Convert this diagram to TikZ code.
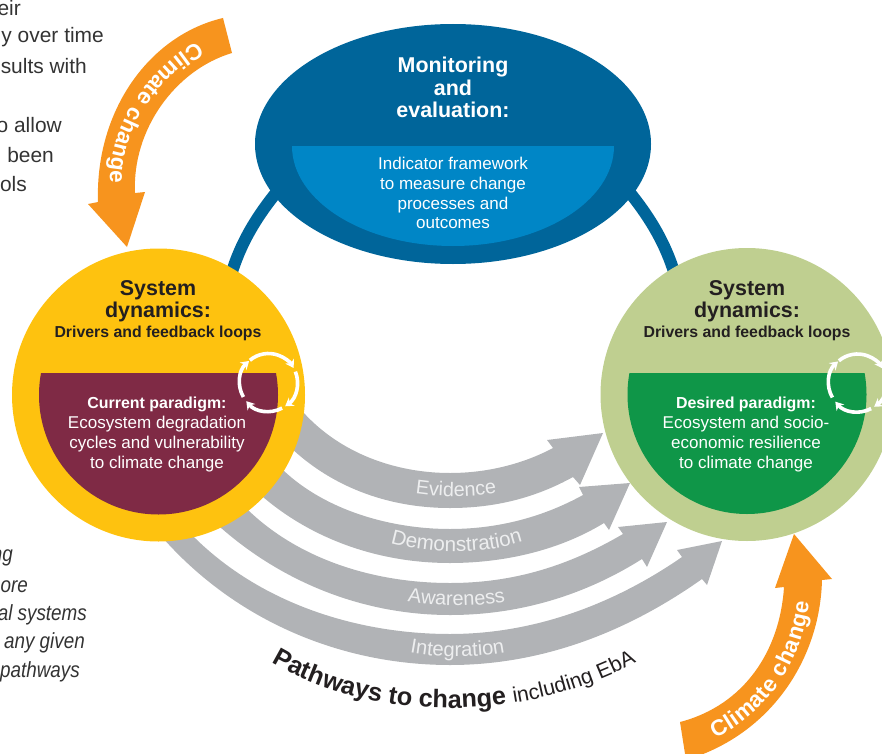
\documentclass[tikz,border=0pt]{standalone}
\usepackage{fontspec}
\setmainfont{Liberation Sans}
\newfontfamily\condfont[FakeStretch=0.86]{Liberation Sans}
\usetikzlibrary{arrows.meta,decorations.text}
\definecolor{cteal}{HTML}{00659A}
\definecolor{cblue}{HTML}{0086C6}
\definecolor{cyellow}{HTML}{FEC20F}
\definecolor{cmaroon}{HTML}{7F2A45}
\definecolor{csage}{HTML}{BFCF90}
\definecolor{cgreen}{HTML}{0F9648}
\definecolor{corange}{HTML}{F7941E}
\definecolor{cgrey}{HTML}{B1B3B6}
\definecolor{cink}{HTML}{231F20}
\definecolor{cbody}{HTML}{333333}
\definecolor{clabel}{HTML}{EDEEEF}
\newcommand{\fs}[1]{\fontsize{#1}{#1}\selectfont}
\tikzset{
  greyarrow/.style={fill=cgrey,draw=none},
  orangearrow/.style={fill=corange,draw=none},
  heading/.style={align=center,font=\bfseries\fs{21.5},inner sep=0pt,text height=15.5pt,text depth=4.5pt,yshift=-2bp},
  subhead/.style={align=center,font=\bfseries\fs{15.9},inner sep=0pt,text height=11pt,text depth=3.5pt,yshift=-2bp},
  panel/.style={align=center,font=\fs{17.1},text=white,inner sep=0pt,text height=11pt,text depth=3.5pt,yshift=-2.5bp},
  panelb/.style={align=center,font=\bfseries\fs{16},text=white,inner sep=0pt,text height=11pt,text depth=3.5pt,yshift=-2.5bp},
  body/.style={anchor=east,font=\fs{21},text=cbody,inner sep=0pt,yshift=-0.5bp},
  bodyit/.style={anchor=east,font=\condfont\itshape\fs{22},text=cbody,inner sep=0pt,yshift=-2bp},
  ringline/.style={draw=white,line width=3.6bp,-{Stealth[length=8bp,width=10bp]}},
}
\newcommand{\ringat}[1]{%
  \begin{scope}[shift={(#1)},x=1bp,y=1bp]
    \draw[ringline] (130:29) arc[start angle=130,end angle=30,radius=29bp];
    \draw[ringline] (22:29) arc[start angle=22,end angle=-55,radius=29bp];
    \draw[ringline] (-62:29) arc[start angle=-62,end angle=-140,radius=29bp];
    \draw[ringline] (-150:29) arc[start angle=-150,end angle=-228,radius=29bp];
  \end{scope}}
\begin{document}
\begin{tikzpicture}[x=1bp,y=-1bp]
\useasboundingbox (0,0) rectangle (882,754);
\clip (0,0) rectangle (882,754);

% body text fragments
\node[body] (b1) at (21,8) {eir};
\node[body] (b2) at (104,37) {y over time};
\node[body] (b3) at (87,66) {sults with};
\node[body] (b4) at (62,125) {o allow};
\node[body] (b5) at (54,155) {been};
\node[body] (b6) at (27,184) {ols};
\node[bodyit] (i1) at (13,556) {ng};
\node[bodyit] (i2) at (28,585) {ore};
\node[bodyit] (i3) at (87,613) {al systems};
\node[bodyit] (i4) at (85,641) {any given};
\node[bodyit] (i5) at (80,670) {pathways};

% link ring
\draw[cteal,line width=12bp] (231,275) .. controls (240,245) and (255,218) .. (280,188);
\draw[cteal,line width=12bp] (675,275) .. controls (666,245) and (651,218) .. (626,188);

% grey pathways
\fill[greyarrow] (303,412) .. controls (340,453) and (395,473) .. (450,473) .. controls (487,473) and (523,464) .. (553,448)
  -- (547,440) -- (603,433) -- (580,485) -- (573,477)
  .. controls (535,498) and (495,508) .. (450,508) .. controls (385,508) and (330,485) .. (290,447) -- (270,420) -- cycle;
\fill[greyarrow] (283,470) .. controls (325,510) and (390,529) .. (450,529) .. controls (500,529) and (545,516) .. (583,495)
  -- (579,487) -- (630,483) -- (609,530) -- (604,523)
  .. controls (560,550) and (505,563) .. (450,563) .. controls (375,563) and (310,537) .. (263,497) -- (250,470) -- cycle;
\fill[greyarrow] (248,510) .. controls (300,560) and (375,583) .. (450,583) .. controls (515,583) and (570,565) .. (623,534)
  -- (618,527) -- (667,522) -- (647,567) -- (642,559)
  .. controls (585,595) and (520,615) .. (450,615) .. controls (360,615) and (280,580) .. (220,527) -- (220,500) -- cycle;
\fill[greyarrow] (190,533) .. controls (260,605) and (360,634) .. (450,634) .. controls (540,634) and (620,600) .. (682,557)
  -- (677,550) -- (722,541) -- (707,585) -- (702,579)
  .. controls (630,630) and (545,665) .. (450,665) .. controls (340,665) and (235,620) .. (162,537) -- (170,510) -- cycle;

% curved labels on the pathways
\path[decorate,decoration={text along path,text align=center,text={|\fs{19.9}\color{clabel}|Evidence}}]
  (398,490) .. controls (430,498) and (480,499) .. (514,489);
\path[decorate,decoration={text along path,text align=center,text={|\fs{20.7}\color{clabel}|Demonstration}}]
  (378,539) .. controls (425,556) and (490,556) .. (535,537);
\path[decorate,decoration={text along path,text align=center,text={|\fs{20}\color{clabel}|Awareness}}]
  (395,599) .. controls (435,608) and (480,608) .. (518,599);
\path[decorate,decoration={text along path,text align=center,text={|\fs{20.3}\color{clabel}|Integration}}]
  (398,650) .. controls (435,659) and (480,659) .. (517,650);

% caption
\path[decorate,decoration={text along path,text align=center,text={|\bfseries\fs{25.4}\color{cink}|Pathways to change |\mdseries\fs{21.3}\color{cink}|including EbA}}]
  (269,661) .. controls (320,692) and (385,708) .. (450,708) .. controls (520,708) and (585,690) .. (639,661);

% monitoring ellipse
\fill[cteal] (453,144) ellipse [x radius=198,y radius=120];
\begin{scope}
  \clip (280,146) rectangle (630,260);
  \fill[cblue] (453,146) ellipse [x radius=161,y radius=100];
\end{scope}
\node[heading,text=white] (m1) at (453,65) {Monitoring};
\node[heading,text=white] (m2) at (453,88) {and};
\node[heading,text=white] (m3) at (453,110) {evaluation:};
\node[panel] (p1) at (453,163) {Indicator framework};
\node[panel] (p2) at (453,183) {to measure change};
\node[panel] (p3) at (453,203) {processes and};
\node[panel] (p4) at (453,222) {outcomes};

% left circle
\fill[cyellow] (158.5,395) circle [radius=146.5];
\begin{scope}
  \clip (20,373) rectangle (300,530);
  \fill[cmaroon] (158.5,395) circle [radius=119.5];
\end{scope}
\node[heading,text=cink] (l1) at (158,288) {System};
\node[heading,text=cink] (l2) at (158,310) {dynamics:};
\node[subhead,text=cink] (l3) at (158,332) {Drivers and feedback loops};
\node[panelb] (l4) at (157,402) {Current paradigm:};
\node[panel] (l5) at (157,422) {Ecosystem degradation};
\node[panel] (l6) at (157,442) {cycles and vulnerability};
\node[panel] (l7) at (157,462) {to climate change};
\ringat{268.5,382.5}

% right circle
\fill[csage] (747,394.5) circle [radius=146.5];
\begin{scope}
  \clip (610,373) rectangle (882,530);
  \fill[cgreen] (747,394.5) circle [radius=119.5];
\end{scope}
\node[heading,text=cink] (r1) at (747,288) {System};
\node[heading,text=cink] (r2) at (747,310) {dynamics:};
\node[subhead,text=cink] (r3) at (747,332) {Drivers and feedback loops};
\node[panelb] (r4) at (746,402) {Desired paradigm:};
\node[panel] (r5) at (746,422) {Ecosystem and socio-};
\node[panel] (r6) at (746,442) {economic resilience};
\node[panel] (r7) at (746,462) {to climate change};
\ringat{857.5,383}

% climate change arrows
\fill[orangearrow] (223,18) .. controls (150,35) and (95,110) .. (98,202)
  -- (88,204) -- (127,247) -- (145,192) -- (135,193)
  .. controls (132,130) and (175,70) .. (232,53) -- cycle;
\path[decorate,decoration={text along path,text align={fit to path},text={|\bfseries\fs{22.5}\color{white}|Climate change}}]
  (197,42) .. controls (150,68) and (108,125) .. (110,183);
\fill[orangearrow] (680,722) .. controls (745,705) and (780,650) .. (784,587)
  -- (775,588) -- (794,534) -- (832,579) -- (822,580)
  .. controls (820,660) and (770,735) .. (686,760) -- cycle;
\path[decorate,decoration={text along path,text align={fit to path},text={|\bfseries\fs{22.5}\color{white}|Climate change}}]
  (715,738) .. controls (765,715) and (802,665) .. (809,602);
\end{tikzpicture}
\end{document}
